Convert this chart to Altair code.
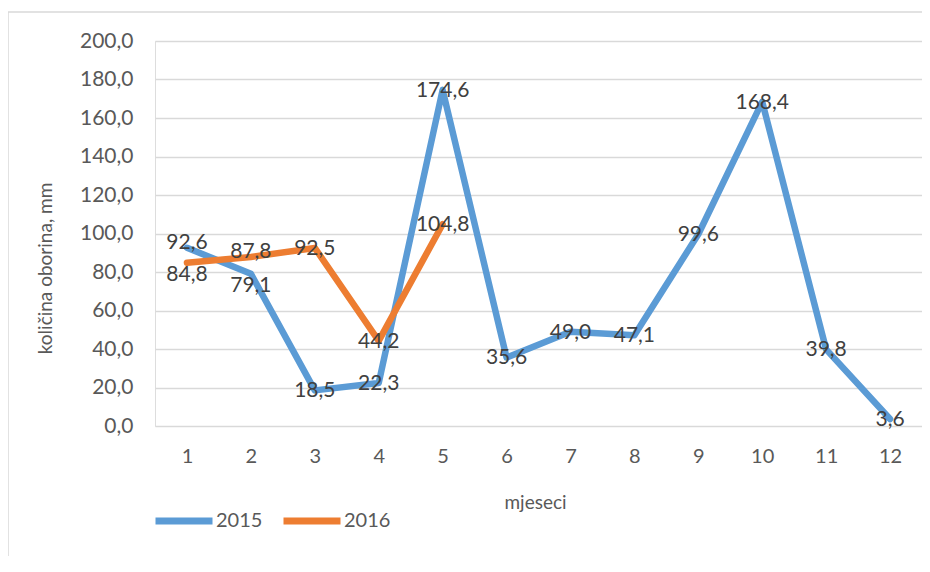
import altair as alt
import pandas as pd

months = list(range(1, 13))
series_names = ["2015", "2016"]
vals_2015 = [92.6, 79.1, 18.5, 22.3, 174.6, 35.6, 49.0, 47.1, 99.6, 168.4, 39.8, 3.6]
vals_2016 = [84.8, 87.8, 92.5, 44.2, 104.8]
y_ticks = list(range(0, 201, 20))
colors = ["#5B9BD5", "#ED7D31"]

rows = []
for m, v in zip(months, vals_2015):
    rows.append({"month": m, "series": "2015", "v": v})
for m, v in zip(months, vals_2016):
    rows.append({"month": m, "series": "2016", "v": v})
df = pd.DataFrame(rows)

FONT = "Lato"
x_axis = alt.Axis(
    title="mjeseci", labelAngle=0, ticks=False, domain=False,
    labelPadding=20, labelFontSize=20, labelColor="#595959", labelFont=FONT,
    titleFontSize=19, titleColor="#595959", titleFont=FONT, titleFontWeight="normal",
    titleX=380, titleY=76, titleBaseline="middle", titleAlign="center",
)
y_axis = alt.Axis(
    title="količina oborina, mm", values=y_ticks, ticks=False, domain=False,
    grid=True, gridColor="#D9D9D9", gridWidth=1.5, labelOverlap=False,
    labelExpr="replace(format(datum.value, '.1f'), '.', ',')",
    labelPadding=22, labelFontSize=21, labelColor="#595959", labelFont=FONT,
    titleFontSize=19, titleColor="#595959", titleFont=FONT, titleFontWeight="normal",
    titleX=-110, titleY=227, titleAngle=270, titleAlign="center", titleBaseline="middle",
)
x_scale = alt.Scale(padding=0.5)
y_scale = alt.Scale(domain=[0, 200], nice=False, zero=True)

def x_enc():
    return alt.X("month:O", sort=months, scale=x_scale, axis=x_axis)

def y_enc():
    return alt.Y("v:Q", scale=y_scale, axis=y_axis)

base = alt.Chart(df)

lines = base.mark_line(strokeWidth=6.5, strokeCap="round", strokeJoin="round").encode(
    x=x_enc(),
    y=y_enc(),
    color=alt.Color(
        "series:N",
        scale=alt.Scale(domain=series_names, range=colors),
        legend=alt.Legend(
            title=None, orient="none", legendX=-3, legendY=448, direction="horizontal",
            symbolType="stroke", symbolSize=3249, symbolStrokeWidth=7,
            labelFontSize=20, labelColor="#595959", labelFont=FONT, labelOffset=0,
            columnPadding=6, padding=0,
        ),
    ),
    order=alt.Order("month:O"),
)

labelled = base.transform_joinaggregate(
    vmax="max(v)", vmin="min(v)", n="count()", groupby=["month"]
).transform_calculate(
    lab="replace(format(datum.v, '.1f'), '.', ',')",
    cls="(datum.n == 2 && datum.vmax - datum.vmin < 15) ? (datum.v == datum.vmin ? 'low' : 'high') : 'mid'",
)

def text_layer(cls, dy):
    return labelled.transform_filter(f"datum.cls == '{cls}'").mark_text(
        font=FONT, fontSize=21, color="#404040", baseline="middle", align="center", dy=dy
    ).encode(x=x_enc(), y=y_enc(), text="lab:N")

border = alt.Chart(pd.DataFrame({"a": [0]})).mark_rect(
    fillOpacity=0, stroke="#D9D9D9", strokeWidth=1.5
).encode(
    x=alt.value(-147), x2=alt.value(900), y=alt.value(-29), y2=alt.value(700)
)

chart = alt.layer(
    border, lines, text_layer("mid", 1), text_layer("low", 12), text_layer("high", -5)
).properties(
    width=767, height=385,
    autosize=alt.AutoSizeParams(type="none"),
    padding={"left": 147, "top": 33, "right": 0, "bottom": 130},
).configure_view(stroke=None).configure(background="white")

chart.save("out.html", embed_options={"renderer": "svg", "actions": False})
